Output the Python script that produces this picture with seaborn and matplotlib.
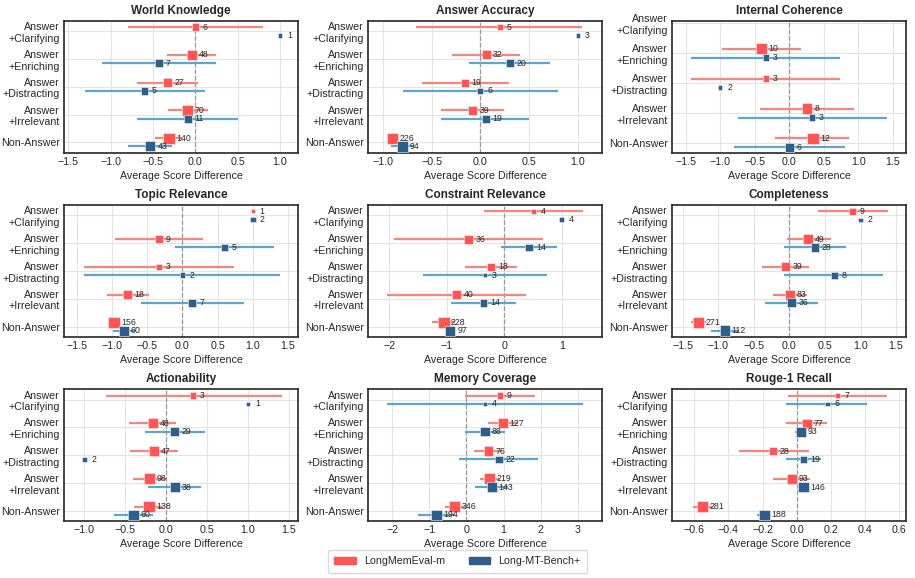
import numpy as np
import pandas as pd
import matplotlib
matplotlib.use("Agg")
import matplotlib.pyplot as plt
from matplotlib.colors import LogNorm
from matplotlib.patches import Patch
import seaborn as sns

# Categories (top to bottom) and panels
categories = ["Answer\n+Clarifying", "Answer\n+Enriching", "Answer\n+Distracting",
              "Answer\n+Irrelevant", "Non-Answer"]
metrics = ["World Knowledge", "Answer Accuracy", "Internal Coherence",
           "Topic Relevance", "Constraint Relevance", "Completeness",
           "Actionability", "Memory Coverage", "Rouge-1 Recall"]
series_names = ["LongMemEval-m", "Long-MT-Bench+"]

N = None
# LongMemEval-m: mean, error bar low / high, sample count
lme_mean = [[0.00, -0.04, -0.33, -0.09, -0.31],
            [0.20, 0.06, -0.16, -0.08, -0.90],
            [N, -0.41, -0.34, 0.26, 0.34],
            [1.00, -0.33, -0.33, -0.78, -0.97],
            [0.51, -0.62, -0.23, -0.83, -1.05],
            [0.89, 0.26, -0.05, 0.01, -1.28],
            [0.33, -0.16, -0.15, -0.20, -0.21],
            [0.90, 0.98, 0.59, 0.63, -0.32],
            [0.24, 0.06, -0.14, -0.03, -0.55]]
lme_lo = [[-0.80, -0.33, -0.69, -0.32, -0.48],
          [-0.66, -0.29, -0.60, -0.40, -0.96],
          [N, -0.98, -1.42, -0.43, -0.21],
          [N, -0.95, -1.40, -1.07, -1.00],
          [-0.36, -1.91, -0.69, -2.04, -1.26],
          [0.40, -0.04, -0.38, -0.23, -1.39],
          [-0.74, -0.45, -0.44, -0.41, -0.39],
          [-0.05, 0.59, 0.20, 0.36, -0.59],
          [-0.05, -0.06, -0.34, -0.14, -0.61]]
lme_hi = [[0.80, 0.24, 0.03, 0.15, -0.16],
          [1.05, 0.41, 0.29, 0.24, -0.84],
          [N, 0.17, 0.74, 0.93, 0.87],
          [N, 0.29, 0.74, -0.48, -0.94],
          [1.37, 0.67, 0.23, 0.37, -0.85],
          [1.38, 0.58, 0.28, 0.25, -1.18],
          [1.41, 0.12, 0.14, 0.00, -0.04],
          [1.85, 1.38, 0.97, 0.90, -0.05],
          [0.53, 0.18, 0.07, 0.08, -0.49]]
lme_n = [[6, 48, 27, 70, 140],
         [5, 32, 19, 39, 226],
         [N, 10, 3, 8, 12],
         [1, 9, 3, 18, 156],
         [4, 36, 18, 40, 228],
         [9, 49, 39, 83, 271],
         [3, 48, 47, 98, 138],
         [9, 127, 76, 219, 346],
         [7, 77, 28, 93, 281]]

# Long-MT-Bench+
mt_mean = [[1.00, -0.43, -0.60, -0.09, -0.53],
           [1.00, 0.30, 0.00, 0.055, -0.80],
           [N, -0.34, -1.00, 0.33, 0.00],
           [1.00, 0.60, 0.00, 0.14, -0.83],
           [1.00, 0.43, -0.34, -0.36, -0.94],
           [1.00, 0.36, 0.63, 0.03, -0.91],
           [1.00, 0.10, -1.00, 0.11, -0.40],
           [0.50, 0.50, 0.87, 0.68, -0.81],
           [0.18, 0.025, 0.04, 0.04, -0.19]]
mt_lo = [[N, -1.10, -1.30, -0.69, -0.79],
         [N, -0.12, -0.80, -0.40, -0.92],
         [N, -1.42, N, -0.74, -0.81],
         [N, -0.10, -1.39, -0.59, -0.99],
         [N, -0.05, -1.42, -0.92, -1.02],
         [N, -0.07, -0.07, -0.34, -1.11],
         [N, -0.26, N, -0.22, -0.64],
         [-2.14, -0.03, -0.19, 0.24, -1.30],
         [-0.06, -0.01, -0.06, 0.02, -0.23]]
mt_hi = [[N, 0.24, 0.11, 0.50, -0.28],
         [N, 0.72, 0.80, 0.50, -0.68],
         [N, 0.74, N, 1.42, 0.81],
         [N, 1.30, 1.39, 0.88, -0.67],
         [N, 0.92, 0.74, 0.20, -0.85],
         [N, 0.79, 1.32, 0.40, -0.71],
         [N, 0.47, N, 0.43, -0.16],
         [3.14, 1.04, 1.94, 1.13, -0.32],
         [0.41, 0.06, 0.145, 0.065, -0.15]]
mt_n = [[1, 7, 5, 11, 43],
        [3, 20, 6, 19, 94],
        [N, 3, 2, 3, 6],
        [2, 5, 2, 7, 60],
        [4, 14, 3, 14, 97],
        [2, 28, 8, 36, 112],
        [1, 29, 2, 38, 60],
        [4, 88, 22, 143, 194],
        [6, 93, 19, 146, 188]]

# Axis ranges per panel
xlims = [(-1.55, 1.21), (-1.155, 1.25), (-1.70, 1.69),
         (-1.68, 1.64), (-2.37, 1.70), (-1.65, 1.64),
         (-1.25, 1.61), (-2.66, 3.66), (-0.73, 0.64)]
xticks = [[-1.5, -1.0, -0.5, 0.0, 0.5, 1.0],
          [-1.0, -0.5, 0.0, 0.5, 1.0],
          [-1.5, -1.0, -0.5, 0.0, 0.5, 1.0, 1.5],
          [-1.5, -1.0, -0.5, 0.0, 0.5, 1.0, 1.5],
          [-2, -1, 0, 1],
          [-1.5, -1.0, -0.5, 0.0, 0.5, 1.0, 1.5],
          [-1.0, -0.5, 0.0, 0.5, 1.0, 1.5],
          [-2, -1, 0, 1, 2, 3],
          [-0.6, -0.4, -0.2, 0.0, 0.2, 0.4, 0.6]]

marker_colors = {"LongMemEval-m": "#ff5555", "Long-MT-Bench+": "#2e5f8a"}
err_colors = {"LongMemEval-m": "#f3877f", "Long-MT-Bench+": "#5ca6cc"}
offsets = {"LongMemEval-m": -0.15, "Long-MT-Bench+": 0.15}

sns.set_style("white")
plt.rcParams['font.family'] = ['Liberation Sans', 'DejaVu Sans']
plt.rcParams['text.color'] = '#262626'
plt.rcParams['xtick.color'] = '#262626'
plt.rcParams['ytick.color'] = '#262626'
plt.rcParams['axes.labelcolor'] = '#262626'

fig, axes = plt.subplots(3, 3, figsize=(9.15, 5.78), dpi=100)
fig.subplots_adjust(left=64 / 915, right=906 / 915, top=1 - 21 / 578,
                    bottom=1 - 521 / 578, wspace=0.30, hspace=0.40)

for i, (ax, metric) in enumerate(zip(axes.flat, metrics)):
    rows = []
    for name, mean, lo, hi, cnt in [
            ("LongMemEval-m", lme_mean[i], lme_lo[i], lme_hi[i], lme_n[i]),
            ("Long-MT-Bench+", mt_mean[i], mt_lo[i], mt_hi[i], mt_n[i])]:
        for j, cat in enumerate(categories):
            if mean[j] is None:
                continue
            rows.append({'series': name, 'category': cat,
                         'y': j + offsets[name], 'mean': mean[j],
                         'lo': np.nan if lo[j] is None else lo[j],
                         'hi': np.nan if hi[j] is None else hi[j],
                         'n': cnt[j]})
    df = pd.DataFrame(rows)

    # grid and zero line
    for j in range(len(categories)):
        ax.axhline(j, color='#e4e4e4', lw=0.8, zorder=0)
    for t in xticks[i]:
        ax.axvline(t, color='#e4e4e4', lw=0.8, zorder=0)
    ax.axvline(0, color='#999999', lw=0.9, ls='--', zorder=1)

    # error bars
    for name in series_names:
        d = df[(df['series'] == name) & df['lo'].notna()]
        ax.hlines(d['y'], d['lo'], d['hi'], color=err_colors[name], lw=1.6, zorder=2)

    sns.scatterplot(data=df, x='mean', y='y', hue='series', palette=marker_colors,
                    hue_order=series_names, size='n',
                    size_norm=LogNorm(df['n'].min(), df['n'].max()),
                    sizes=(9, 66), marker='s', linewidth=0.4, edgecolor='#f4f4f4',
                    legend=False, ax=ax, zorder=3)

    for _, r in df.iterrows():
        ax.annotate(str(int(r['n'])), (r['mean'], r['y']), xytext=(5, 0),
                    textcoords='offset points', va='center', ha='left',
                    fontsize=6.3, zorder=4)

    ax.set_xlim(*xlims[i])
    ax.set_xticks(xticks[i])
    ax.set_xticklabels([f"{t:.1f}".replace('-', '\u2212') if isinstance(t, float)
                        else str(t).replace('-', '\u2212') for t in xticks[i]])
    if metric == "Internal Coherence":
        ax.set_ylim(4.32, -0.07)
    else:
        ax.set_ylim(4.37, -0.37)
    ax.set_yticks(range(len(categories)))
    ax.set_yticklabels(categories)
    ax.tick_params(labelsize=7.7, length=0, pad=3)
    ax.set_xlabel("Average Score Difference", fontsize=7.7, labelpad=3)
    ax.set_ylabel("")
    ax.set_title(metric, fontsize=8.5, fontweight='bold', pad=5)
    for sp in ax.spines.values():
        sp.set_color('#262626')
        sp.set_linewidth(1.2)

handles = [Patch(color=marker_colors[s]) for s in series_names]
fig.legend(handles, series_names, loc='center', bbox_to_anchor=(0.5, 0.029),
           ncol=2, fontsize=7.7, frameon=True, handlelength=2.0, handleheight=0.6,
           columnspacing=2.2, borderpad=0.6, edgecolor='#d0d0d0', fancybox=True)

fig.savefig("out.png", dpi=100)
